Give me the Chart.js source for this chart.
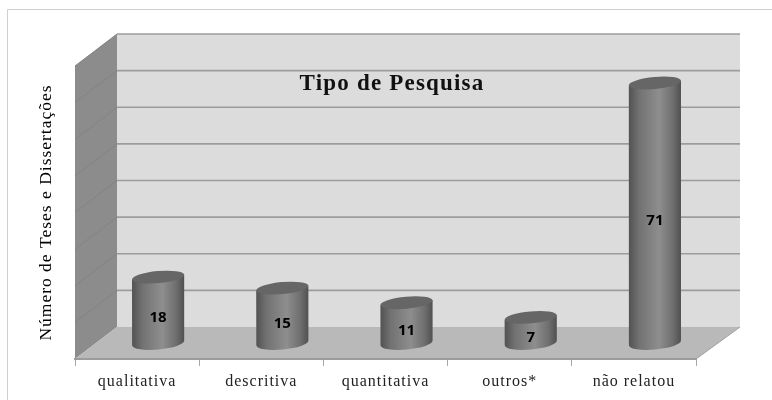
<!DOCTYPE html>
<html>
<head>
<meta charset="utf-8">
<style>
  html, body { margin: 0; padding: 0; background: #fff; }
  #wrap { width: 772px; height: 400px; }
</style>
</head>
<body>
<div id="wrap"><canvas id="tipoChart" width="772" height="400"></canvas></div>
<script src="https://cdn.jsdelivr.net/npm/chart.js@4/dist/chart.umd.min.js"></script>
<script>
const categories = ['qualitativa', 'descritiva', 'quantitativa', 'outros*', 'não relatou'];
const teses = [18, 15, 11, 7, 71];
const chartTitle = 'Tipo de Pesquisa';
const yTitle = 'Número de Teses e Dissertações';

// depth of the fake 3d box, in pixels
const depthX = 42;
const depthY = -32;

const box3d = {
  id: 'box3d',
  beforeDraw(chart) {
    const { ctx, chartArea: a, scales: { y } } = chart;
    ctx.save();
    ctx.fillStyle = '#fff';
    ctx.fillRect(0, 0, 772, 400);
    // outer frame
    ctx.strokeStyle = '#cfcfcf';
    ctx.lineWidth = 1;
    ctx.beginPath();
    ctx.moveTo(7.5, 400);
    ctx.lineTo(7.5, 9.5);
    ctx.lineTo(772, 9.5);
    ctx.stroke();

    // back wall
    ctx.fillStyle = '#dcdcdc';
    ctx.fillRect(a.left + depthX, a.top + depthY, a.width + 2, a.height);
    // left wall
    ctx.fillStyle = '#8c8c8c';
    ctx.beginPath();
    ctx.moveTo(a.left, a.top);
    ctx.lineTo(a.left + depthX, a.top + depthY);
    ctx.lineTo(a.left + depthX, a.bottom + depthY);
    ctx.lineTo(a.left, a.bottom);
    ctx.closePath();
    ctx.fill();
    // floor
    ctx.fillStyle = '#b9b9b9';
    ctx.beginPath();
    ctx.moveTo(a.left, a.bottom);
    ctx.lineTo(a.left + depthX, a.bottom + depthY);
    ctx.lineTo(a.right + depthX + 2, a.bottom + depthY);
    ctx.lineTo(a.right, a.bottom);
    ctx.closePath();
    ctx.fill();
    ctx.strokeStyle = '#a0a0a0';
    ctx.beginPath();
    ctx.moveTo(a.right, a.bottom);
    ctx.lineTo(a.right + depthX + 2, a.bottom + depthY);
    ctx.stroke();

    // grid lines, walked from the y scale
    y.ticks.forEach((t) => {
      const py = y.getPixelForValue(t.value);
      if (t.value > 0) {
        ctx.strokeStyle = '#838383';
        ctx.lineWidth = 1;
        ctx.beginPath();
        ctx.moveTo(a.left, py);
        ctx.lineTo(a.left + depthX, py + depthY);
        ctx.stroke();
        ctx.strokeStyle = '#9c9c9c';
        ctx.lineWidth = 1.6;
        ctx.beginPath();
        ctx.moveTo(a.left + depthX, py + depthY);
        ctx.lineTo(a.right + depthX + 2, py + depthY);
        ctx.stroke();
      }
    });
    ctx.restore();
    // the reference text is spaced out a little
    ctx.letterSpacing = '1px';
  },
  afterDatasetsDraw(chart) {
    const { ctx } = chart;
    const bars = chart.getDatasetMeta(0).data;
    const ox = depthX / 2;
    const oy = depthY / 2;
    ctx.save();
    ctx.letterSpacing = '0px';
    bars.forEach((bar, i) => {
      const cx = bar.x + ox;
      const top = bar.y + oy;
      const base = bar.base + oy;
      const r = bar.width / 2;
      const tilt = -0.09;
      const ry = 6.5;
      const grad = ctx.createLinearGradient(cx - r, 0, cx + r, 0);
      grad.addColorStop(0, '#525252');
      grad.addColorStop(0.2, '#727272');
      grad.addColorStop(0.58, '#8e8e8e');
      grad.addColorStop(0.85, '#6e6e6e');
      grad.addColorStop(1, '#505050');
      const lift = r * Math.sin(tilt);
      ctx.fillStyle = grad;
      ctx.beginPath();
      ctx.moveTo(cx - r, top - lift);
      ctx.lineTo(cx + r, top + lift);
      ctx.lineTo(cx + r, base + lift);
      ctx.ellipse(cx, base, r, ry, tilt, 0, Math.PI);
      ctx.closePath();
      ctx.fill();
      ctx.fillStyle = '#666666';
      ctx.beginPath();
      ctx.ellipse(cx, top, r, ry - 0.5, tilt, 0, Math.PI * 2);
      ctx.fill();

      ctx.fillStyle = '#000';
      ctx.font = 'bold 15px "Open Sans"';
      ctx.textAlign = 'center';
      ctx.textBaseline = 'middle';
      ctx.fillText(String(teses[i]), cx, (top + base) / 2 + 8);
    });
    ctx.fillStyle = '#111';
    ctx.font = 'bold 23px "Liberation Serif"';
    ctx.letterSpacing = '1.2px';
    ctx.textAlign = 'center';
    ctx.textBaseline = 'middle';
    ctx.fillText(chartTitle, 392, 84);
    ctx.restore();
  }
};

new Chart(document.getElementById('tipoChart'), {
  type: 'bar',
  data: {
    labels: categories,
    datasets: [{
      data: teses,
      backgroundColor: 'transparent',
      barPercentage: 0.42,
      categoryPercentage: 1
    }]
  },
  plugins: [box3d],
  options: {
    responsive: false,
    animation: false,
    layout: { padding: { left: 0, top: 66, right: 76, bottom: 0 } },
    plugins: { legend: { display: false }, title: { display: false }, tooltip: { enabled: false } },
    scales: {
      x: {
        afterFit: (s) => { s.height = 41; },
        grid: { drawOnChartArea: false, color: '#a8a8a8', tickLength: 7 },
        border: { color: '#9c9c9c', width: 2 },
        ticks: { color: '#222', padding: 6, font: { family: '"Liberation Serif"', size: 16 }, maxRotation: 0 }
      },
      y: {
        min: 0,
        max: 80,
        afterFit: (s) => { s.width = 75; },
        grid: { display: false },
        border: { display: false },
        ticks: { display: false, stepSize: 10 },
        title: {
          display: true,
          text: yTitle,
          color: '#000',
          padding: { top: 36, bottom: 0 },
          font: { family: '"Liberation Serif"', size: 17.5, weight: '500' }
        }
      }
    }
  }
});
</script>
</body>
</html>
